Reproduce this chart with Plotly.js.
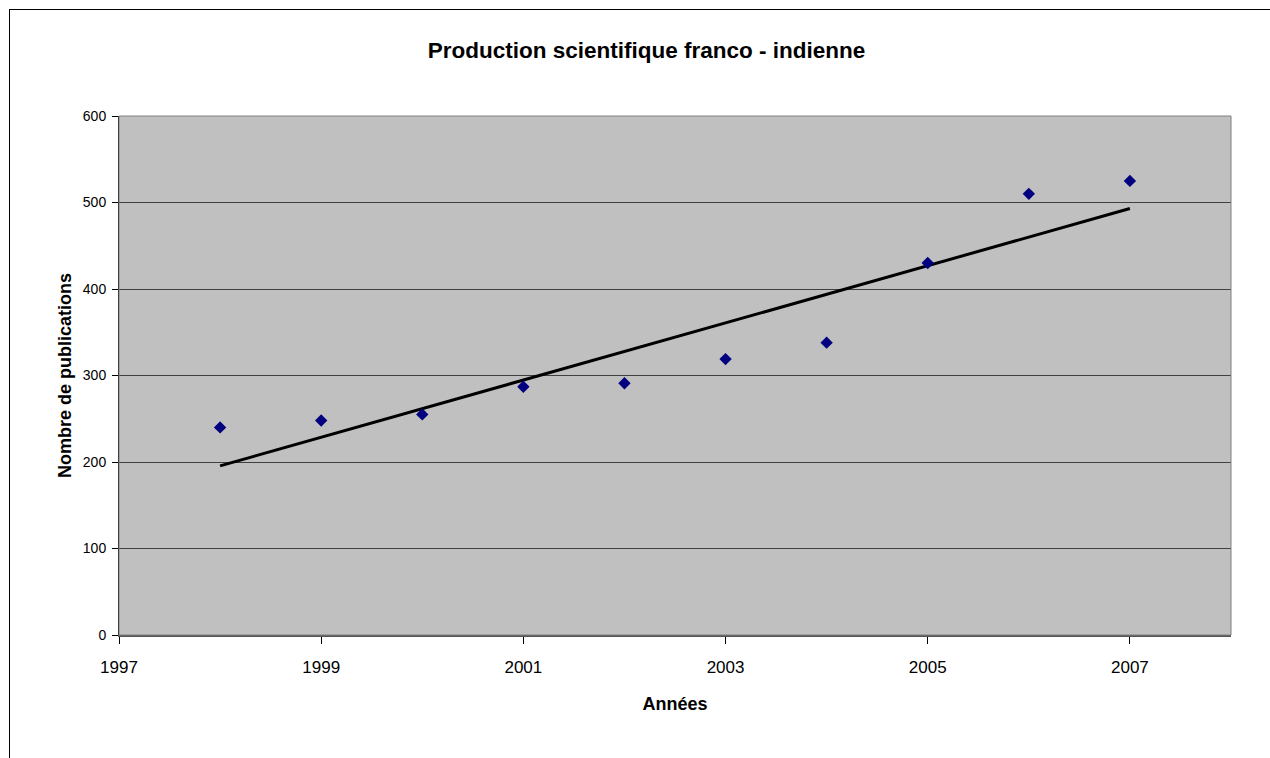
<!DOCTYPE html>
<html>
<head>
<meta charset="utf-8">
<script src="https://cdn.plot.ly/plotly-3.0.1.min.js"></script>
<style>
  html, body { margin: 0; padding: 0; background: #fff; }
  #wrap { position: relative; width: 1270px; height: 758px; overflow: hidden; }
  #chart { position: absolute; left: 0; top: 0; width: 1270px; height: 758px; }
  #frame { position: absolute; left: 9px; top: 9px; width: 1300px; height: 800px;
           border-left: 1px solid #000; border-top: 1px solid #000; pointer-events: none; }
</style>
</head>
<body>
<div id="wrap">
  <div id="chart"></div>
  <div id="frame"></div>
</div>
<script>
const years = [1998, 1999, 2000, 2001, 2002, 2003, 2004, 2005, 2006, 2007];
const publications = [240, 248, 255, 287, 291, 319, 338, 430, 510, 525];
const xTicks = [1997, 1999, 2001, 2003, 2005, 2007];
const yTicks = [0, 100, 200, 300, 400, 500, 600];

// Linear trend line (least squares) computed from the data
const n = years.length;
const mx = years.reduce((a, b) => a + b, 0) / n;
const my = publications.reduce((a, b) => a + b, 0) / n;
let sxy = 0, sxx = 0;
for (let i = 0; i < n; i++) { sxy += (years[i] - mx) * (publications[i] - my); sxx += (years[i] - mx) ** 2; }
const slope = sxy / sxx, icpt = my - slope * mx;
const trendX = [years[0], years[n - 1]];
const trendY = trendX.map(x => icpt + slope * x);

const font = "Liberation Sans, Arial, sans-serif";
const data = [
  { x: trendX, y: trendY, mode: 'lines', line: { color: '#000', width: 3 }, hoverinfo: 'skip' },
  { x: years, y: publications, mode: 'markers',
    marker: { symbol: 'diamond', size: 9.5, color: '#000080' } }
];
const layout = {
  width: 1270, height: 758,
  margin: { l: 119, r: 39, t: 116, b: 123 },
  paper_bgcolor: '#fff', plot_bgcolor: '#c0c0c0',
  showlegend: false,
  font: { family: font, size: 14, color: '#000' },
  title: { text: 'Production scientifique franco - indienne', font: { family: font, size: 22.5, weight: 'bold', color: '#000' },
           xref: 'container', x: 646.5 / 1270, xanchor: 'center', y: 1 - 50 / 758, yanchor: 'middle' },
  xaxis: {
    range: [1997, 2008], tickvals: xTicks, ticktext: xTicks.map(String),
    showgrid: false, zeroline: false, automargin: false,
    showline: true, linecolor: '#555', linewidth: 2, mirror: false,
    ticks: 'outside', ticklen: 7, tickcolor: '#000', tickwidth: 1,
    ticklabelstandoff: 9,
    tickfont: { family: font, size: 17, color: '#000' },
    title: { text: 'Années', font: { family: font, size: 18, weight: 'bold', color: '#000' }, standoff: 21 }
  },
  yaxis: {
    range: [0, 600], tickvals: yTicks,
    showgrid: true, gridcolor: '#404040', gridwidth: 1, zeroline: false, automargin: false,
    showline: true, linecolor: '#000', linewidth: 1,
    ticks: 'outside', ticklen: 6, tickcolor: '#000', tickwidth: 1,
    ticklabelstandoff: 3,
    tickfont: { family: font, size: 14, color: '#000' },
    title: { text: 'Nombre de publications', font: { family: font, size: 18, weight: 'bold', color: '#000' }, standoff: 6 }
  },
  shapes: [
    { type: 'rect', xref: 'paper', yref: 'paper', x0: 0, x1: 1, y0: 0, y1: 1,
      line: { color: '#808080', width: 1 }, fillcolor: 'rgba(0,0,0,0)', layer: 'above' }
  ]
};
Plotly.newPlot('chart', data, layout, { displayModeBar: false, staticPlot: true });
</script>
</body>
</html>
